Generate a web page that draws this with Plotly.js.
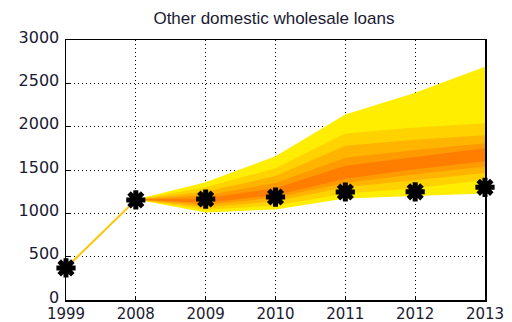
<!DOCTYPE html>
<html>
<head>
<meta charset="utf-8">
<script src="https://cdn.plot.ly/plotly-3.0.1.min.js"></script>
<style>html,body{margin:0;padding:0;background:#fff;}#chart{width:512px;height:322px;}</style>
</head>
<body>
<div id="chart"></div>
<script>
// Categories (x positions are their index)
const years = ["1999", "2008", "2009", "2010", "2011", "2012", "2013"];
// Observed / point values (black stars)
const pointValues = [370, 1155, 1165, 1188, 1246, 1248, 1300];
// History line 1999 -> 2008
const historyValues = [370, 1155];
// Fan chart bands for 2008..2013 (outer to inner)
const fanYears = ["2008", "2009", "2010", "2011", "2012", "2013"];
const band1Upper = [1160, 1360, 1660, 2140, 2390, 2691];
const band1Lower = [1160, 1010, 1045, 1170, 1200, 1230];
const band2Upper = [1160, 1300, 1520, 1920, 1990, 2040];
const band2Lower = [1160, 1040, 1090, 1230, 1290, 1385];
const band3Upper = [1160, 1250, 1430, 1780, 1850, 1900];
const band3Lower = [1160, 1070, 1140, 1300, 1380, 1465];
const band4Upper = [1160, 1210, 1350, 1640, 1730, 1810];
const band4Lower = [1160, 1100, 1180, 1350, 1450, 1540];
const band5Upper = [1160, 1175, 1290, 1550, 1650, 1750];
const band5Lower = [1160, 1120, 1210, 1400, 1510, 1600];
const bandColors = ["#FFEE00", "#FFD200", "#FFB400", "#FF9A00", "#FF7E00"];
const yTicks = [0, 500, 1000, 1500, 2000, 2500, 3000];

const idx = years.map((_, i) => i);
const fanIdx = fanYears.map(y => years.indexOf(y));
const bands = [
  [band1Upper, band1Lower], [band2Upper, band2Lower], [band3Upper, band3Lower],
  [band4Upper, band4Lower], [band5Upper, band5Lower]
];
const traces = [];
bands.forEach((b, k) => {
  traces.push({
    type: "scatter", mode: "lines",
    x: fanIdx.concat(fanIdx.slice().reverse()),
    y: b[0].concat(b[1].slice().reverse()),
    fill: "toself", fillcolor: bandColors[k],
    line: {width: 0, color: bandColors[k]},
    hoverinfo: "skip", showlegend: false
  });
});
traces.push({
  type: "scatter", mode: "lines",
  x: [0, 1], y: historyValues,
  line: {color: "#FFC400", width: 2},
  hoverinfo: "skip", showlegend: false
});
traces.push({
  type: "scatter", mode: "markers",
  x: idx, y: pointValues,
  marker: {symbol: "asterisk-open", size: 16, color: "#000", line: {color: "#000", width: 5}},
  cliponaxis: false, showlegend: false
});
traces.push({
  type: "scatter", mode: "markers",
  x: idx, y: pointValues,
  marker: {symbol: "circle", size: 11, color: "#000", line: {width: 0}},
  cliponaxis: false, showlegend: false
});

const yfont = {family: "DejaVu Sans, sans-serif", size: 16, color: "#1a1a33"};
const xfont = {family: "DejaVu Sans, sans-serif", size: 15, color: "#1a1a33"};
const layout = {
  width: 512, height: 322,
  margin: {l: 66, r: 27, t: 40, b: 22},
  paper_bgcolor: "#fff", plot_bgcolor: "#fff",
  showlegend: false,
  title: {text: "Other domestic wholesale loans", font: {family: "Liberation Sans, Arial, sans-serif", size: 17, color: "#1a1a33"}, x: 0.535, xanchor: "center", y: 0.945, yanchor: "middle"},
  xaxis: {
    range: [0, 6], tickvals: idx, ticktext: years,
    showgrid: true, gridcolor: "#000", gridwidth: 1, griddash: "1px,3px",
    showline: true, linecolor: "#000", linewidth: 1.5, mirror: true,
    ticks: "inside", ticklen: 4, tickcolor: "#000",
    tickfont: xfont, zeroline: false, fixedrange: true, ticklabelstandoff: -1
  },
  yaxis: {
    range: [0, 3000], tickvals: yTicks,
    showgrid: true, gridcolor: "#000", gridwidth: 1, griddash: "1px,3px",
    showline: true, linecolor: "#000", linewidth: 1.5, mirror: true,
    ticks: "inside", ticklen: 4, tickcolor: "#000",
    tickfont: yfont, zeroline: false, fixedrange: true, ticklabelstandoff: 2, ticklabelshift: -3
  }
};
Plotly.newPlot("chart", traces, layout, {staticPlot: true});
</script>
</body>
</html>
